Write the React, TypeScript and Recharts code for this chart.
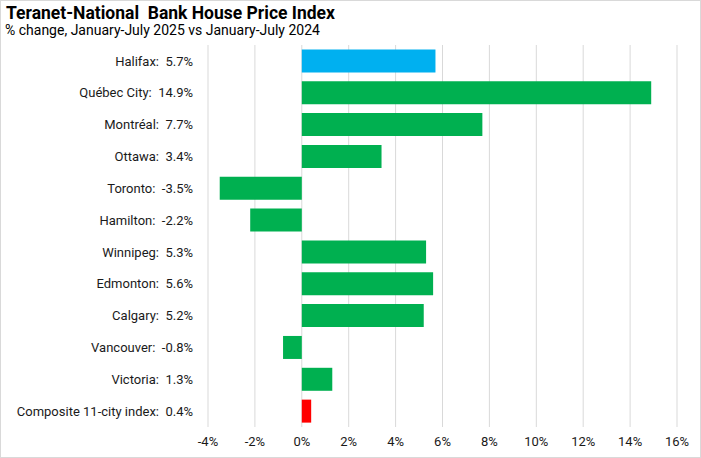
import { BarChart, Bar, XAxis, YAxis, CartesianGrid, Cell } from 'recharts';

const cities = [
    'Halifax',
    'Québec City',
    'Montréal',
    'Ottawa',
    'Toronto',
    'Hamilton',
    'Winnipeg',
    'Edmonton',
    'Calgary',
    'Vancouver',
    'Victoria',
    'Composite 11-city index',
];
const changes = [5.7, 14.9, 7.7, 3.4, -3.5, -2.2, 5.3, 5.6, 5.2, -0.8, 1.3, 0.4];
const xTicks = [-4, -2, 0, 2, 4, 6, 8, 10, 12, 14, 16];

const data = cities.map((city, i) => ({
    label: `${city}:\u00A0 ${changes[i].toFixed(1)}%`,
    city,
    value: changes[i],
}));

// Halifax highlighted blue, composite red, everything else green
const barColor = (city: string) => {
    if (city === 'Halifax') return '#00B0F0';
    if (city.startsWith('Composite')) return '#FF0000';
    return '#00B050';
};

const font = 'Roboto, "Liberation Sans", sans-serif';

export default function App() {
    return (
        <div
            style={{
                position: 'absolute',
                left: 0,
                top: 0,
                width: 701,
                height: 458,
                boxSizing: 'border-box',
                border: '1px solid #D9D9D9',
                background: '#fff',
                fontFamily: font,
            }}
        >
            <div style={{ position: 'absolute', left: 5, top: 2, fontSize: 17.5, fontWeight: 700, color: '#000', whiteSpace: 'pre' }}>
                Teranet-National  Bank House Price Index
            </div>
            <div style={{ position: 'absolute', left: 4, top: 21, fontSize: 14, color: '#000', whiteSpace: 'pre' }}>
                % change, January-July 2025 vs January-July 2024
            </div>
            <div style={{ position: 'absolute', left: -1, top: -1 }}>
                <BarChart
                    width={701}
                    height={458}
                    data={data}
                    layout="vertical"
                    barCategoryGap="14%"
                    margin={{ top: 45, right: 24, left: 0, bottom: 0 }}
                >
                    <CartesianGrid horizontal={false} stroke="#D9D9D9" />
                    <XAxis
                        type="number"
                        domain={[-4, 16]}
                        ticks={xTicks}
                        tickFormatter={(v) => `${v}%`}
                        axisLine={false}
                        tickLine={false}
                        height={31}
                        tickMargin={4}
                        tick={{ fill: '#1a1a1a', fontSize: 13, fontFamily: font }}
                        interval={0}
                    />
                    <YAxis
                        type="category"
                        dataKey="label"
                        width={208}
                        axisLine={false}
                        tickLine={false}
                        tickMargin={9}
                        interval={0}
                        tick={{ fill: '#1a1a1a', fontSize: 13, fontFamily: font }}
                    />
                    <Bar dataKey="value" isAnimationActive={false}>
                        {data.map((d) => (
                            <Cell key={d.city} fill={barColor(d.city)} />
                        ))}
                    </Bar>
                </BarChart>
            </div>
        </div>
    );
}
